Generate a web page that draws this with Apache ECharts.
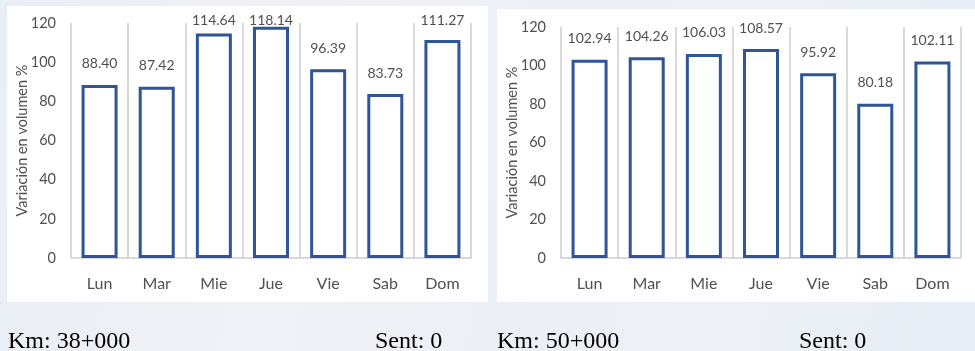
<!DOCTYPE html>
<html>
<head>
<meta charset="utf-8">
<script src="https://cdn.jsdelivr.net/npm/echarts@6/dist/echarts.min.js"></script>
<style>
html,body{margin:0;padding:0;width:975px;height:351px;overflow:hidden;}
body{background:linear-gradient(100deg,#e9edf5 0%,#f1f2f7 30%,#eceff6 55%,#eef0f7 75%,#e6edf4 100%);}
#chart{width:975px;height:351px;position:absolute;left:0;top:0;}
</style>
</head>
<body>
<div id="chart"></div>
<script>
const categories = ['Lun', 'Mar', 'Mie', 'Jue', 'Vie', 'Sab', 'Dom'];
const valuesKm38 = [88.40, 87.42, 114.64, 118.14, 96.39, 83.73, 111.27];
const valuesKm50 = [102.94, 104.26, 106.03, 108.57, 95.92, 80.18, 102.11];
const yTicks = [0, 20, 40, 60, 80, 100, 120];
const yAxisName = 'Variación en volumen %';
const captions = ['Km: 38+000', 'Sent: 0', 'Km: 50+000', 'Sent: 0'];

const FONT = 'Lato';
const TXT = '#505050';
const GRID = '#d9d9d9';
const BAR = '#2F5597';

function xAxis(gi) {
  return {
    type: 'category', gridIndex: gi, data: categories,
    axisLine: { show: true, lineStyle: { color: GRID, width: 2 } },
    axisTick: { show: false },
    axisLabel: { color: TXT, fontFamily: FONT, fontSize: 16, margin: 18 },
    splitLine: { show: true, lineStyle: { color: GRID, width: 2 } }
  };
}
function yAxis(gi) {
  return {
    type: 'value', gridIndex: gi, min: yTicks[0], max: yTicks[yTicks.length - 1],
    interval: yTicks[1] - yTicks[0],
    name: yAxisName, nameLocation: 'middle', nameRotate: 90, nameGap: 41,
    nameMoveOverlap: false,
    nameTextStyle: { color: TXT, fontFamily: FONT, fontSize: 14.5 },
    axisLine: { show: false }, axisTick: { show: false },
    axisLabel: { color: TXT, fontFamily: FONT, fontSize: 14.5, margin: 15 },
    splitLine: { show: false }
  };
}
function series(gi, data) {
  return {
    type: 'bar', xAxisIndex: gi, yAxisIndex: gi, data: data, barWidth: 36,
    itemStyle: { color: '#ffffff', borderColor: BAR, borderWidth: 3 },
    label: {
      show: true, position: 'top', distance: 14, color: TXT, fontFamily: FONT, fontSize: 14,
      formatter: p => p.value.toFixed(2)
    },
    labelLayout: function (params) {
      const r = params.labelRect;
      if (r.y < 13) {
        return { x: r.x + r.width / 2, y: 13, align: 'center', verticalAlign: 'top' };
      }
      return {};
    }
  };
}

const chart = echarts.init(document.getElementById('chart'), null, { renderer: 'canvas' });
const capStyle = { fill: '#000', font: '24px "Liberation Serif", "Times New Roman", serif', textVerticalAlign: 'bottom' };
chart.setOption({
  backgroundColor: 'transparent',
  animation: false,
  grid: [
    { left: 71, right: 504, top: 23, bottom: 93 },
    { left: 561, right: 14, top: 27, bottom: 93 }
  ],
  xAxis: [xAxis(0), xAxis(1)],
  yAxis: [yAxis(0), yAxis(1)],
  series: [series(0, valuesKm38), series(1, valuesKm50)],
  graphic: [
    { type: 'rect', z: -10, shape: { x: 7, y: 6, width: 481, height: 296 }, style: { fill: '#ffffff' } },
    { type: 'rect', z: -10, shape: { x: 497, y: 9, width: 480, height: 293 }, style: { fill: '#ffffff' } },
    { type: 'text', x: 8, y: 354, style: Object.assign({ text: captions[0] }, capStyle) },
    { type: 'text', x: 375, y: 354, style: Object.assign({ text: captions[1] }, capStyle) },
    { type: 'text', x: 497, y: 354, style: Object.assign({ text: captions[2] }, capStyle) },
    { type: 'text', x: 799, y: 354, style: Object.assign({ text: captions[3] }, capStyle) }
  ]
});
</script>
</body>
</html>
